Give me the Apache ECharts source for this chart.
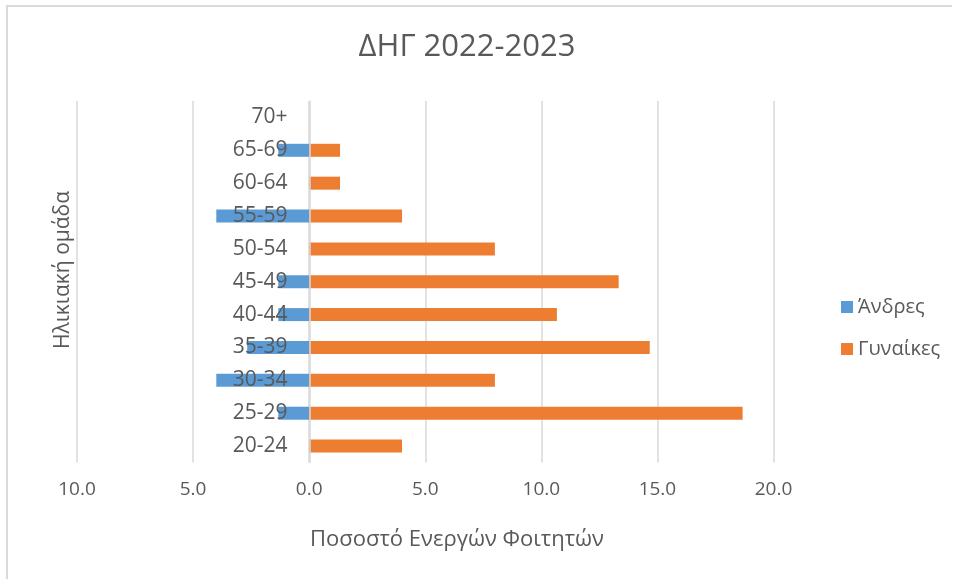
<!DOCTYPE html>
<html>
<head>
<meta charset="utf-8">
<script src="https://cdn.jsdelivr.net/npm/echarts@6/dist/echarts.min.js"></script>
<style>
  html, body { margin: 0; padding: 0; background: #fff; }
  #wrap { position: relative; width: 956px; height: 581px; }
  #frame { position: absolute; left: 6px; top: 5px; width: 946px; height: 574px; border: 2px solid #d9d9d9; box-sizing: border-box; border-right: none; border-bottom: none; }
  #main { position: absolute; left: 0; top: 0; width: 956px; height: 581px; }
</style>
</head>
<body>
<div id="wrap">
  <div id="frame"></div>
  <div id="main"></div>
</div>
<script>
// ηλικιακές ομάδες (από κάτω προς τα πάνω)
var categories = ['20-24', '25-29', '30-34', '35-39', '40-44', '45-49', '50-54', '55-59', '60-64', '65-69', '70+'];
// Άνδρες: αρνητικές τιμές για να πάνε αριστερά
var men = [0, -1.33, -4.0, -2.67, -1.33, -1.33, 0, -4.0, 0, -1.33, 0];
var women = [4.0, 18.67, 8.0, 14.67, 10.67, 13.33, 8.0, 4.0, 1.33, 1.33, 0];
var xTicks = { min: -10, max: 20, step: 5 };

var textColor = '#595959';
var font = '"Open Sans", "Noto Sans", sans-serif';

var myChart = echarts.init(document.getElementById('main'));

var option = {
    animation: false,
    textStyle: { fontFamily: font },
    title: {
        text: 'ΔΗΓ 2022-2023',
        left: 462,
        top: 27,
        textAlign: 'center',
        textStyle: { color: textColor, fontSize: 31, fontWeight: 'normal', fontFamily: font }
    },
    legend: {
        orient: 'vertical',
        left: 836,
        top: 292,
        itemWidth: 12,
        itemHeight: 12,
        itemGap: 22,
        icon: 'rect',
        textStyle: { color: textColor, fontSize: 20, fontFamily: font },
        data: ['Άνδρες', 'Γυναίκες']
    },
    grid: {
        left: 77,
        right: 182.5,
        top: 101,
        bottom: 118.5,
        containLabel: false
    },
    xAxis: {
        type: 'value',
        min: xTicks.min,
        max: xTicks.max,
        interval: xTicks.step,
        axisLine: { show: false },
        axisTick: { show: false },
        splitLine: { lineStyle: { color: '#d9d9d9', width: 1.5 } },
        axisLabel: {
            color: textColor,
            fontSize: 19,
            margin: 18,
            fontFamily: font,
            // απόλυτη τιμή με ένα δεκαδικό
            formatter: function (v) { return Math.abs(v).toFixed(1); }
        }
    },
    yAxis: {
        type: 'category',
        data: categories,
        z: 5,
        // μετακίνηση του άξονα στο 0 του x
        offset: -232.5,
        axisLine: { onZero: false, lineStyle: { color: '#d9d9d9', width: 1.5 } },
        axisTick: { show: false },
        axisLabel: { color: textColor, fontSize: 21, margin: 22, fontFamily: font }
    },
    graphic: [
        {
            type: 'text',
            x: 63,
            y: 270,
            rotation: Math.PI / 2,
            style: {
                text: 'Ηλικιακή ομάδα',
                fill: textColor,
                font: '21px ' + font,
                textAlign: 'center',
                textVerticalAlign: 'middle'
            }
        },
        {
            type: 'text',
            x: 457,
            y: 540,
            style: {
                text: 'Ποσοστό Ενεργών Φοιτητών',
                fill: textColor,
                font: '22px ' + font,
                textAlign: 'center',
                textVerticalAlign: 'middle'
            }
        }
    ],
    series: [
        {
            name: 'Άνδρες',
            type: 'bar',
            data: men,
            barWidth: 13,
            barGap: '-100%',
            itemStyle: { color: '#5b9bd5' }
        },
        {
            name: 'Γυναίκες',
            type: 'bar',
            data: women,
            barWidth: 13,
            itemStyle: { color: '#ed7d31' }
        }
    ]
};

myChart.setOption(option);
</script>
</body>
</html>
